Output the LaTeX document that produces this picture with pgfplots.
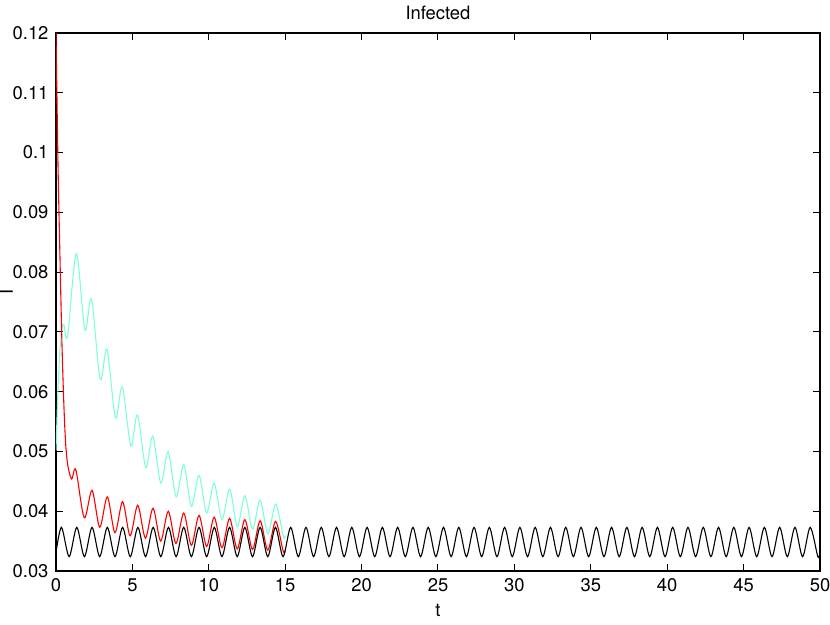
\documentclass[border=0pt]{standalone}
\usepackage{pgfplots}
\pgfplotsset{compat=1.18}
\usepackage{fontspec}
\setmainfont{TeX Gyre Heros}
\definecolor{aqua}{RGB}{127,255,212}
\begin{document}
\fontsize{9.2}{11}\selectfont
\begin{tikzpicture}
\useasboundingbox (-28pt,-27pt) rectangle (387pt,285.5pt);
\begin{axis}[
  at={(0,0)}, anchor=south west,
  scale only axis, width=382pt, height=269pt,
  xmin=0, xmax=50, ymin=0.03, ymax=0.12,
  xtick={0,5,...,50},
  ytick={0.03,0.04,0.05,0.06,0.07,0.08,0.09,0.1,0.11,0.12},
  yticklabels={0.03,0.04,0.05,0.06,0.07,0.08,0.09,0.1,0.11,0.12},
  /pgf/number format/assume math mode=true,
  tick align=inside, major tick length=3.5pt,
  tick style={black, line width=0.5pt},
  axis line style={line width=0.6pt},
  xticklabel style={yshift=-0.5pt},
  yticklabel style={xshift=-0.5pt},
  title={Infected}, title style={yshift=-2.5pt},
  xlabel={t}, ylabel={I},
  xlabel style={yshift=0pt},
  ylabel style={yshift=-6.5pt, xshift=5pt},
  every axis plot/.append style={line width=0.55pt, smooth, no markers},
]
\addplot[aqua] coordinates {
(0,0.0502) (0.13,0.0603) (0.26,0.0670) (0.40,0.0706) (0.52,0.0712) (0.76,0.0693)
(1.33,0.0831) (1.89,0.0703) (2.32,0.0755) (2.89,0.0621) (3.34,0.0671) (3.89,0.0556)
(4.34,0.0608) (4.90,0.0509) (5.33,0.0561) (5.88,0.0473) (6.33,0.0526) (6.86,0.0447)
(7.34,0.0500) (7.86,0.0424) (8.36,0.0478) (8.86,0.0408) (9.36,0.0460) (9.86,0.0397)
(10.35,0.0447) (10.86,0.0386) (11.37,0.0437) (11.87,0.0374) (12.36,0.0426) (12.87,0.0370)
(13.36,0.0419) (13.87,0.0362) (14.38,0.0412) (14.88,0.0357) (15.0,0.0360)
};
\addplot[red] coordinates {
(0,0.1200) (0.13,0.0982) (0.26,0.0825) (0.39,0.0680) (0.52,0.0575) (0.64,0.0510)
(0.79,0.0474) (1.03,0.0454) (1.30,0.0469) (1.85,0.0389) (2.36,0.0435) (2.86,0.0373)
(3.36,0.0424) (3.86,0.0364) (4.36,0.0416) (4.85,0.0359) (5.35,0.0410) (5.85,0.0355)
(6.35,0.0405) (6.85,0.0350) (7.35,0.0400) (7.85,0.0346) (8.36,0.0397) (8.86,0.0343)
(9.36,0.0393) (9.86,0.0341) (10.35,0.0390) (10.86,0.0339) (11.36,0.0388) (11.86,0.0337)
(12.36,0.0386) (12.86,0.0336) (13.36,0.0384) (13.86,0.0335) (14.37,0.0383) (14.87,0.0333)
(15.0,0.0335)
};
\addplot[black] coordinates {
(0,0.0331)
(0.36,0.0373) (0.86,0.0324) (1.36,0.0373) (1.86,0.0324) (2.36,0.0373) (2.86,0.0324)
(3.36,0.0373) (3.86,0.0324) (4.36,0.0373) (4.86,0.0324) (5.36,0.0373) (5.86,0.0324)
(6.36,0.0373) (6.86,0.0324) (7.36,0.0373) (7.86,0.0324) (8.36,0.0373) (8.86,0.0324)
(9.36,0.0373) (9.86,0.0324) (10.36,0.0373) (10.86,0.0324) (11.36,0.0373) (11.86,0.0324)
(12.36,0.0373) (12.86,0.0324) (13.36,0.0373) (13.86,0.0324) (14.36,0.0373) (14.86,0.0324)
(15.36,0.0373) (15.86,0.0324) (16.36,0.0373) (16.86,0.0324) (17.36,0.0373) (17.86,0.0324)
(18.36,0.0373) (18.86,0.0324) (19.36,0.0373) (19.86,0.0324) (20.36,0.0373) (20.86,0.0324)
(21.36,0.0373) (21.86,0.0324) (22.36,0.0373) (22.86,0.0324) (23.36,0.0373) (23.86,0.0324)
(24.36,0.0373) (24.86,0.0324) (25.36,0.0373) (25.86,0.0324) (26.36,0.0373) (26.86,0.0324)
(27.36,0.0373) (27.86,0.0324) (28.36,0.0373) (28.86,0.0324) (29.36,0.0373) (29.86,0.0324)
(30.36,0.0373) (30.86,0.0324) (31.36,0.0373) (31.86,0.0324) (32.36,0.0373) (32.86,0.0324)
(33.36,0.0373) (33.86,0.0324) (34.36,0.0373) (34.86,0.0324) (35.36,0.0373) (35.86,0.0324)
(36.36,0.0373) (36.86,0.0324) (37.36,0.0373) (37.86,0.0324) (38.36,0.0373) (38.86,0.0324)
(39.36,0.0373) (39.86,0.0324) (40.36,0.0373) (40.86,0.0324) (41.36,0.0373) (41.86,0.0324)
(42.36,0.0373) (42.86,0.0324) (43.36,0.0373) (43.86,0.0324) (44.36,0.0373) (44.86,0.0324)
(45.36,0.0373) (45.86,0.0324) (46.36,0.0373) (46.86,0.0324) (47.36,0.0373) (47.86,0.0324)
(48.36,0.0373) (48.86,0.0324) (49.36,0.0373) (49.86,0.0324)
(50,0.0331)
};
\end{axis}
\end{tikzpicture}
\end{document}
